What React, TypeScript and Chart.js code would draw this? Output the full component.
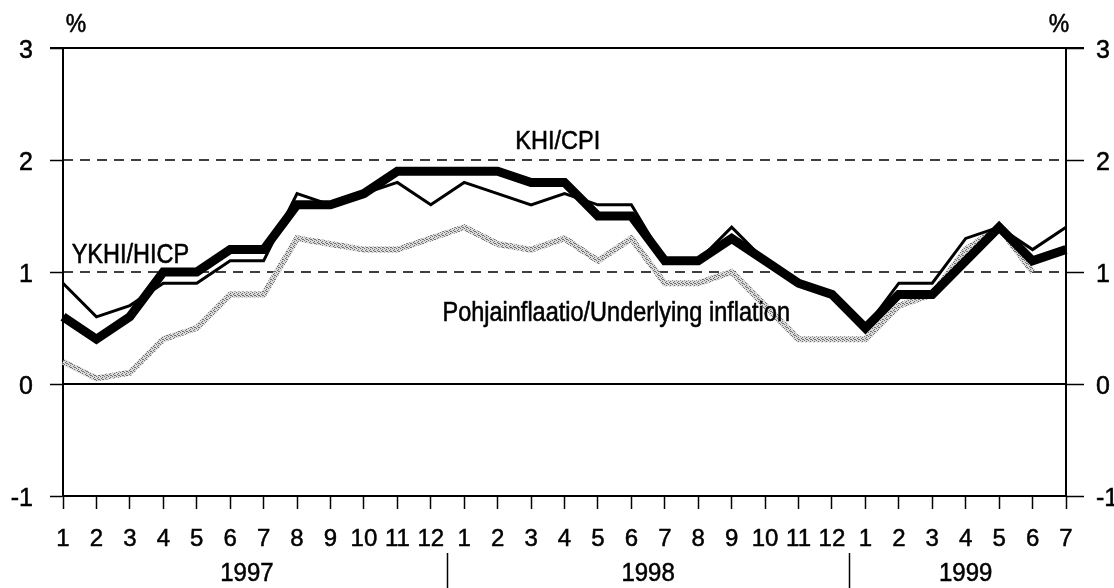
import React, { useEffect, useRef } from "react";
import { Chart, registerables } from "chart.js";

Chart.register(...registerables);

// ---- data ----
const months = [
  "1", "2", "3", "4", "5", "6", "7", "8", "9", "10", "11", "12",
  "1", "2", "3", "4", "5", "6", "7", "8", "9", "10", "11", "12",
  "1", "2", "3", "4", "5", "6", "7",
];
const cpi = [
  0.6, 0.4, 0.6, 1.0, 1.0, 1.2, 1.2, 1.6, 1.6, 1.7, 1.9, 1.9,
  1.9, 1.9, 1.8, 1.8, 1.5, 1.5, 1.1, 1.1, 1.3, 1.1, 0.9, 0.8,
  0.5, 0.8, 0.8, 1.1, 1.4, 1.1, 1.2,
];
const hicp = [
  0.9, 0.6, 0.7, 0.9, 0.9, 1.1, 1.1, 1.7, 1.6, 1.7, 1.8, 1.6,
  1.8, 1.7, 1.6, 1.7, 1.6, 1.6, 1.1, 1.1, 1.4, 1.1, 0.9, 0.8,
  0.5, 0.9, 0.9, 1.3, 1.4, 1.2, 1.4,
];
const underlying: (number | null)[] = [
  0.2, 0.05, 0.1, 0.4, 0.5, 0.8, 0.8, 1.3, 1.25, 1.2, 1.2, 1.3,
  1.4, 1.25, 1.2, 1.3, 1.1, 1.3, 0.9, 0.9, 1.0, 0.7, 0.4, 0.4,
  0.4, 0.7, 0.8, 1.2, 1.4, 1.0, null,
];
const years = ["1997", "1998", "1999"];
const yearCenters = [5.5, 17.5, 27];
const yearBreaks = [11.5, 23.5];
const dashedLevels = [1, 2];
const seriesLabels = ["KHI/CPI", "YKHI/HICP", "Pohjainflaatio/Underlying inflation"];

const FONT = "'Liberation Sans', Arial, Helvetica, sans-serif";

function makeStipple(): CanvasPattern | string {
  const c = document.createElement("canvas");
  c.width = 4;
  c.height = 4;
  const g = c.getContext("2d");
  if (!g) return "#a0a0a0";
  g.fillStyle = "#dadada";
  g.fillRect(0, 0, 4, 4);
  g.fillStyle = "#707070";
  [[0, 0], [2, 1], [1, 2], [3, 3], [2, 3]].forEach(([x, y]) => g.fillRect(x, y, 1, 1));
  return g.createPattern(c, "repeat") ?? "#a0a0a0";
}

function drawText(ctx: CanvasRenderingContext2D, text: string, x: number, y: number, sy: number) {
  ctx.save();
  ctx.translate(x, y);
  ctx.scale(1, sy);
  ctx.fillText(text, 0, 0);
  ctx.strokeText(text, 0, 0);
  ctx.restore();
}

const overlay = {
  id: "overlay",
  beforeDatasetsDraw(chart: any) {
    const { ctx, chartArea, scales } = chart;
    const y = scales.y;
    ctx.save();
    ctx.strokeStyle = "#000";
    ctx.lineWidth = 2;
    const yTop = y.getPixelForValue(3);
    ctx.beginPath();
    ctx.moveTo(chartArea.left - 13, yTop);
    ctx.lineTo(chartArea.right + 18, yTop);
    ctx.stroke();
    const y0 = y.getPixelForValue(0);
    ctx.beginPath();
    ctx.moveTo(chartArea.left, y0);
    ctx.lineTo(chartArea.right, y0);
    ctx.stroke();
    ctx.lineWidth = 1.5;
    ctx.setLineDash([10, 7]);
    dashedLevels.forEach((v) => {
      const py = y.getPixelForValue(v);
      ctx.beginPath();
      ctx.moveTo(chartArea.left, py);
      ctx.lineTo(chartArea.right, py);
      ctx.stroke();
    });
    ctx.restore();
  },
  afterDraw(chart: any) {
    const { ctx, scales } = chart;
    const x = scales.x;
    const y = scales.y;
    ctx.save();
    ctx.fillStyle = "#000";
    ctx.strokeStyle = "#000";
    ctx.lineWidth = 0.5;
    ctx.textBaseline = "middle";
    // year labels
    ctx.font = `24px ${FONT}`;
    ctx.textAlign = "center";
    years.forEach((t, i) => {
      drawText(ctx, t, x.getPixelForValue(yearCenters[i]), 574, 1.1);
    });
    // percent signs
    ctx.font = `23px ${FONT}`;
    drawText(ctx, "%", chart.chartArea.left + 13, 25, 1.1);
    drawText(ctx, "%", chart.chartArea.right - 7, 25, 1.1);
    // series labels
    ctx.font = `23.5px ${FONT}`;
    ctx.textAlign = "center";
    drawText(ctx, seriesLabels[0], x.getPixelForValue(14.8), y.getPixelForValue(2.16), 1.12);
    ctx.textAlign = "left";
    drawText(ctx, seriesLabels[1], x.getPixelForValue(0.26), y.getPixelForValue(1.15), 1.15);
    drawText(ctx, seriesLabels[2], x.getPixelForValue(11.35), y.getPixelForValue(0.63), 1.15);
    // year separators
    ctx.lineWidth = 1.5;
    yearBreaks.forEach((b) => {
      const px = Math.round(x.getPixelForValue(b)) + 0.5;
      ctx.beginPath();
      ctx.moveTo(px, 553);
      ctx.lineTo(px, 588);
      ctx.stroke();
    });
    ctx.restore();
  },
};

export default function App() {
  const ref = useRef<HTMLCanvasElement | null>(null);

  useEffect(() => {
    document.body.style.margin = "0";
    const canvas = ref.current;
    if (!canvas) return;
    const stipple = makeStipple();
    const tickFont = { family: FONT, size: 24 };
    const chart = new Chart(canvas, {
      type: "line",
      data: {
        labels: months,
        datasets: [
          {
            label: "YKHI/HICP",
            data: hicp,
            borderColor: "#000",
            borderWidth: 3,
            pointRadius: 0,
            tension: 0,
            order: 0,
            yAxisID: "y",
          },
          {
            label: "KHI/CPI",
            data: cpi,
            borderColor: "#000",
            borderWidth: 9,
            pointRadius: 0,
            tension: 0,
            order: 1,
            yAxisID: "y",
          },
          {
            label: "Pohjainflaatio/Underlying inflation",
            data: underlying,
            borderColor: stipple as any,
            borderWidth: 6,
            pointRadius: 0,
            tension: 0,
            order: 2,
            yAxisID: "y",
          },
        ],
      },
      options: {
        responsive: false,
        animation: false,
        devicePixelRatio: 1,
        layout: { padding: { top: 48, left: 0, right: 0, bottom: 0 } },
        plugins: {
          legend: { display: false },
          tooltip: { enabled: false },
        },
        scales: {
          x: {
            type: "category",
            offset: false,
            afterFit: (s: any) => {
              s.height = 92;
            },
            grid: {
              drawOnChartArea: false,
              drawTicks: true,
              tickLength: 13,
              tickColor: "#000",
              tickWidth: 1.5,
            },
            border: { display: true, color: "#000", width: 2 },
            ticks: {
              autoSkip: false,
              maxRotation: 0,
              minRotation: 0,
              color: "#000",
              padding: 16,
              textStrokeColor: "#000",
              textStrokeWidth: 0.5,
              font: tickFont,
            },
          },
          y: {
            position: "left",
            min: -1,
            max: 3,
            afterFit: (s: any) => {
              s.width = 63;
            },
            grid: {
              drawOnChartArea: false,
              drawTicks: true,
              tickLength: 13,
              tickColor: "#000",
              tickWidth: 1.5,
            },
            border: { display: true, color: "#000", width: 2 },
            ticks: {
              stepSize: 1,
              color: "#000",
              padding: 17,
              labelOffset: 3,
              textStrokeColor: "#000",
              textStrokeWidth: 0.5,
              font: { family: FONT, size: 25 },
            },
          },
          y2: {
            position: "right",
            min: -1,
            max: 3,
            afterFit: (s: any) => {
              s.width = 48;
            },
            grid: {
              drawOnChartArea: false,
              drawTicks: true,
              tickLength: 18,
              tickColor: "#000",
              tickWidth: 1.5,
            },
            border: { display: true, color: "#000", width: 2 },
            ticks: {
              stepSize: 1,
              color: "#000",
              padding: 12,
              labelOffset: 3,
              textStrokeColor: "#000",
              textStrokeWidth: 0.5,
              font: { family: FONT, size: 25 },
            },
          },
        },
      },
      plugins: [overlay],
    });
    return () => chart.destroy();
  }, []);

  return (
    <div style={{ width: 1114, height: 588, background: "#fff" }}>
      <canvas ref={ref} width={1114} height={588} style={{ display: "block" }} />
    </div>
  );
}
